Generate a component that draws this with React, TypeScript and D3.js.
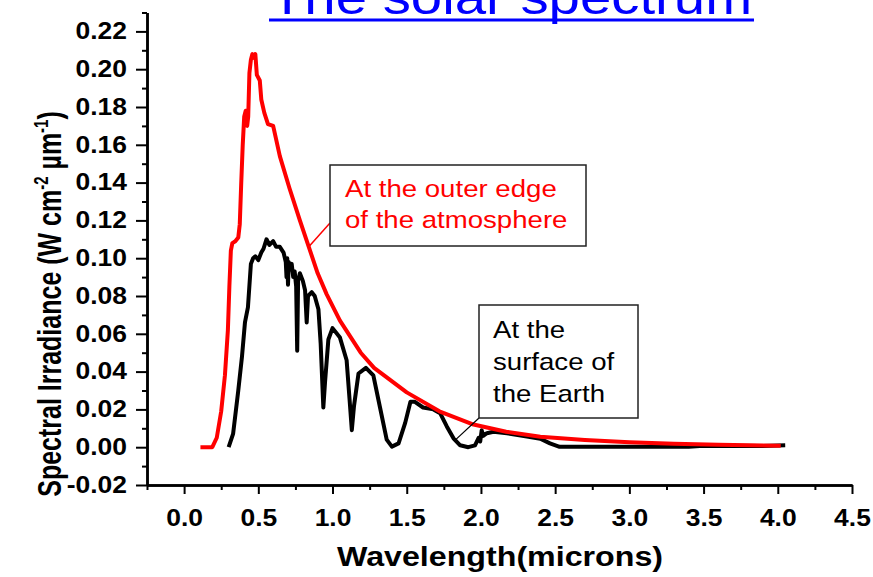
import React, { useEffect, useRef } from "react";
import * as d3 from "d3";

// extraterrestrial spectrum (red)
const outerWavelength = [0.11, 0.19, 0.22, 0.25, 0.275, 0.295, 0.305, 0.315, 0.325, 0.345, 0.365, 0.375, 0.385, 0.395, 0.405, 0.415, 0.425, 0.432, 0.44, 0.45, 0.46, 0.47, 0.48, 0.49, 0.51, 0.52, 0.54, 0.565, 0.6, 0.645, 0.71, 0.78, 0.84, 0.9, 0.96, 1.05, 1.19, 1.28, 1.5, 1.72, 1.95, 2.17, 2.4, 2.7, 3.0, 3.3, 3.6, 4.02];
const outerIrradiance = [0.0, 0.0, 0.005, 0.019, 0.038, 0.062, 0.085, 0.104, 0.108, 0.109, 0.111, 0.118, 0.14, 0.16, 0.175, 0.178, 0.17, 0.175, 0.198, 0.205, 0.208, 0.206, 0.208, 0.197, 0.194, 0.184, 0.177, 0.171, 0.17, 0.154, 0.137, 0.12, 0.106, 0.092, 0.081, 0.067, 0.05, 0.042, 0.029, 0.019, 0.012, 0.0082, 0.0055, 0.0038, 0.0026, 0.0018, 0.0013, 0.0008];

// spectrum at sea level (black)
const surfaceWavelength = [0.3, 0.33, 0.365, 0.39, 0.41, 0.43, 0.45, 0.465, 0.48, 0.5, 0.52, 0.535, 0.555, 0.575, 0.6, 0.62, 0.645, 0.67, 0.685, 0.69, 0.695, 0.7, 0.705, 0.715, 0.725, 0.735, 0.745, 0.755, 0.762, 0.768, 0.78, 0.8, 0.815, 0.826, 0.835, 0.86, 0.88, 0.905, 0.92, 0.938, 0.95, 0.972, 1.0, 1.05, 1.095, 1.115, 1.13, 1.145, 1.175, 1.225, 1.275, 1.32, 1.365, 1.4, 1.445, 1.49, 1.525, 1.555, 1.61, 1.68, 1.725, 1.77, 1.815, 1.86, 1.915, 1.96, 1.985, 1.995, 2.005, 2.015, 2.04, 2.085, 2.175, 2.31, 2.4, 2.465, 2.53, 2.95, 3.4, 3.5, 3.9, 4.05];
const surfaceIrradiance = [0.0, 0.007, 0.03, 0.048, 0.066, 0.074, 0.097, 0.1, 0.101, 0.099, 0.103, 0.105, 0.11, 0.107, 0.109, 0.106, 0.106, 0.103, 0.098, 0.09, 0.1, 0.086, 0.098, 0.094, 0.097, 0.09, 0.093, 0.085, 0.051, 0.088, 0.092, 0.088, 0.083, 0.066, 0.08, 0.082, 0.08, 0.073, 0.055, 0.021, 0.035, 0.057, 0.063, 0.058, 0.046, 0.025, 0.009, 0.022, 0.039, 0.042, 0.038, 0.021, 0.004, 0.0003, 0.002, 0.013, 0.024, 0.024, 0.021, 0.02, 0.018, 0.011, 0.0047, 0.001, 0.0, 0.001, 0.005, 0.003, 0.009, 0.006, 0.0074, 0.0082, 0.0074, 0.0056, 0.0045, 0.002, 0.0002, 0.0002, 0.0003, 0.0008, 0.0007, 0.001];

const xTicks = [0, 0.5, 1, 1.5, 2, 2.5, 3, 3.5, 4, 4.5];
const xTickLabels = ["0.0", "0.5", "1.0", "1.5", "2.0", "2.5", "3.0", "3.5", "4.0", "4.5"];
const xMinorTicks = [-0.25, 0.25, 0.75, 1.25, 1.75, 2.25, 2.75, 3.25, 3.75, 4.25];
const yTicks = [-0.02, 0, 0.02, 0.04, 0.06, 0.08, 0.1, 0.12, 0.14, 0.16, 0.18, 0.2, 0.22];
const yTickLabels = ["-0.02", "0.00", "0.02", "0.04", "0.06", "0.08", "0.10", "0.12", "0.14", "0.16", "0.18", "0.20", "0.22"];
const yMinorTicks = [-0.01, 0.01, 0.03, 0.05, 0.07, 0.09, 0.11, 0.13, 0.15, 0.17, 0.19, 0.21, 0.23];

const SX = 1.15; // source picture is a bit wider than tall
const FONT = "'Liberation Sans', Arial, sans-serif";

const x = d3.scaleLinear().domain([-0.25, 4.5]).range([147, 852]);
const y = d3.scaleLinear().domain([-0.02, 0.23]).range([485, 12.5]);

function STxt(props: any) {
  const { x, y, anchor, size, weight, fill, children } = props;
  return (
    <text
      transform={`translate(${x},${y}) scale(${SX},1)`}
      textAnchor={anchor || "start"}
      fontSize={size}
      fontWeight={weight || "normal"}
      fontFamily={FONT}
      fill={fill || "#000"}
    >
      {children}
    </text>
  );
}

export default function App() {
  const xRef = useRef<SVGGElement>(null);
  const yRef = useRef<SVGGElement>(null);

  useEffect(() => {
    const gx = d3.select(xRef.current);
    gx.selectAll("*").remove();
    gx.append("g").call(d3.axisBottom(x).tickValues(xMinorTicks).tickSize(5).tickSizeOuter(0).tickFormat(() => ""));
    gx.append("g").call(
      d3.axisBottom(x).tickValues(xTicks).tickSize(9).tickSizeOuter(0).tickPadding(16)
        .tickFormat((d, i) => xTickLabels[i])
    );

    const gy = d3.select(yRef.current);
    gy.selectAll("*").remove();
    gy.append("g").call(d3.axisLeft(y).tickValues(yMinorTicks).tickSize(5).tickSizeOuter(0).tickFormat(() => ""));
    gy.append("g").call(
      d3.axisLeft(y).tickValues(yTicks).tickSize(11).tickSizeOuter(0)
        .tickFormat((d, i) => yTickLabels[i])
    );

    [gx, gy].forEach((g) => {
      g.selectAll(".domain").attr("stroke-width", 2.5);
      g.selectAll(".tick line").attr("stroke-width", 2);
      g.selectAll("g").attr("font-family", FONT).attr("font-size", 23);
      g.selectAll("text").attr("font-weight", "bold").attr("fill", "#000")
        .attr("transform", `scale(${SX},1)`);
    });
    gy.selectAll("text").attr("x", -20 / SX);
  }, []);

  const outerPath = d3.line<number>().x((d, i) => x(outerWavelength[i])).y((d) => y(d))(outerIrradiance);
  const surfacePath = d3.line<number>().x((d, i) => x(surfaceWavelength[i])).y((d) => y(d))(surfaceIrradiance);

  return (
    <svg width={873} height={577} style={{ position: "absolute", left: 0, top: 0, background: "#fff" }}>
      <STxt x={511} y={14} anchor="middle" size={49} fill="#0000ff">The solar spectrum</STxt>
      <line x1={269} x2={754} y1={20} y2={20} stroke="#0000ff" strokeWidth={3} />

      <path d={surfacePath || ""} fill="none" stroke="#000" strokeWidth={4} strokeLinejoin="round" />
      <path d={outerPath || ""} fill="none" stroke="#ff0000" strokeWidth={4} strokeLinejoin="round" />

      <g ref={xRef} transform={`translate(0,${y(-0.02)})`} />
      <g ref={yRef} transform={`translate(${x(-0.25)},0)`} />

      <STxt x={500} y={566} anchor="middle" size={28} weight="bold">Wavelength(microns)</STxt>
      <text
        transform={`translate(61,304) scale(1.3,1) rotate(-90)`}
        textAnchor="middle"
        fontSize={25}
        fontWeight="bold"
        fontFamily={FONT}
      >
        Spectral Irradiance (W cm<tspan dy={-10} fontSize={15}>-2</tspan>
        <tspan dy={10}> µm</tspan><tspan dy={-10} fontSize={15}>-1</tspan><tspan dy={10}>)</tspan>
      </text>

      <line x1={330} y1={223} x2={x(0.84)} y2={y(0.106)} stroke="#ff0000" strokeWidth={1.5} />
      <rect x={330} y={165} width={256} height={81} fill="#fff" stroke="#222" strokeWidth={1.5} />
      <STxt x={345} y={197} size={24} fill="#ff0000">At the outer edge</STxt>
      <STxt x={345} y={228} size={24} fill="#ff0000">of the atmosphere</STxt>

      <line x1={479} y1={418} x2={x(1.83)} y2={y(0.004)} stroke="#000" strokeWidth={1.2} />
      <rect x={479} y={305} width={159} height={113} fill="#fff" stroke="#222" strokeWidth={1.5} />
      <STxt x={493} y={338} size={24}>At the</STxt>
      <STxt x={493} y={370} size={24}>surface of</STxt>
      <STxt x={493} y={402} size={24}>the Earth</STxt>
    </svg>
  );
}
